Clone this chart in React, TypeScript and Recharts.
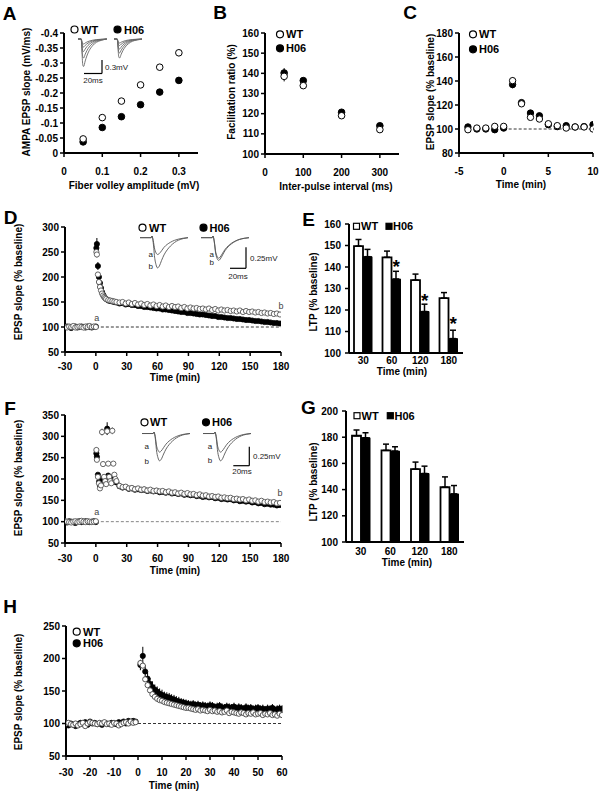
import React from 'react';
import {
  ScatterChart, Scatter, XAxis, YAxis, ErrorBar, ReferenceLine,
  ComposedChart, Bar, LineChart, Line,
} from 'recharts';

const FF = '"Liberation Sans", Arial, Helvetica, sans-serif';

// ---------- Panel A ----------
const aFiber = [0.05, 0.1, 0.15, 0.2, 0.25, 0.3];
const aWT = [-0.047, -0.118, -0.173, -0.227, -0.286, -0.334];
const aWTErr = [0.004, 0.004, 0.004, 0.005, 0.009, 0.011];
const aH06 = [-0.037, -0.085, -0.121, -0.161, -0.203, -0.242];
const aH06Err = [0.003, 0.003, 0.004, 0.004, 0.005, 0.005];
const aYTicks = [-0.4, -0.35, -0.3, -0.25, -0.2, -0.15, -0.1, -0.05, 0];
const aXTicks = [0, 0.1, 0.2, 0.3];

// ---------- Panel B ----------
const bInterval = [50, 100, 200, 300];
const bWT = [138.5, 133.9, 119, 112.1];
const bWTErr = [2.5, 1.5, 1.5, 1.5];
const bH06 = [140.2, 136.4, 120.7, 114];
const bH06Err = [2.4, 1, 1, 1];
const bYTicks = [100, 110, 120, 130, 140, 150, 160];
const bXTicks = [0, 100, 200, 300];

// ---------- Panel C ----------
const cTime = [-4, -3, -2, -1, 0, 1, 2, 3, 4, 5, 6, 7, 8, 9, 10];
const cWT = [99.4, 100.8, 100.8, 102.2, 102.2, 140.3, 121, 109.7, 108.3, 104.4, 102.8, 100.8, 101.7, 101.7, 100];
const cH06 = [101.7, 100, 100, 99.4, 100.8, 137, 122, 113.3, 111, 103.6, 102, 102.8, 101.7, 102, 103.6];
const cWTErr = [1, 1, 1, 1, 1, 3, 2, 1.5, 1.5, 1, 1, 1, 1, 1, 1];
const cH06Err = [1, 1, 1, 1, 1, 3, 2, 1.5, 1.5, 1, 1, 1, 1, 1, 1];
const cYTicks = [80, 100, 120, 140, 160, 180];
const cXTicks = [-5, 0, 5, 10];

// ---------- Panel D ----------
const dTime = [-30, -28, -26, -24, -22, -20, -18, -16, -14, -12, -10, -8, -6, -4, -2, 0,
  0.5, 1, 2, 3, 4, 5, 6, 7, 8, 9, 10, 12, 14, 16, 18, 20,
  23, 26, 29, 32, 35, 38, 41, 44, 47, 50, 53, 56, 59, 62, 65, 68, 71, 74, 77, 80,
  83, 86, 89, 92, 95, 98, 101, 104, 107, 110, 113, 116, 119, 122, 125, 128, 131, 134,
  137, 140, 143, 146, 149, 152, 155, 158, 161, 164, 167, 170, 173, 176, 179];
const dWT = [100, 99, 101, 100, 102, 99, 100, 101, 100, 99, 101, 100, 102, 100, 101, 100,
  250, 245, 205, 190, 180, 173, 167, 163, 160, 158, 156, 154, 153, 152, 151, 150,
  149, 150, 147, 149, 146, 148, 145, 147, 144, 146,
  143, 145, 142, 144, 141, 143, 140, 142, 140, 141,
  138, 140, 137, 139, 137, 138, 136, 137, 135, 137,
  134, 136, 133, 135, 133, 134, 132, 133, 131, 133,
  130, 132, 130, 131, 129, 130, 128, 129, 127, 128,
  126, 127, 125];
const dH06 = [99, 101, 100, 98, 100, 101, 99, 100, 101, 100, 99, 101, 100, 99, 100, 101,
  258, 266, 222, 200, 188, 178, 170, 165, 161, 158, 156, 153, 152, 151, 150, 149,
  147, 148, 145, 146, 144, 144, 142, 142, 140, 140,
  139, 138, 137, 137, 135, 135, 134, 133, 132, 131,
  130, 130, 128, 128, 127, 126, 125, 125, 124, 123,
  122, 122, 120, 120, 119, 118, 118, 117, 116, 116,
  115, 114, 114, 113, 112, 112, 111, 110, 110, 109,
  108, 108, 107];
const dWTErrEarly = [8, 6, 5, 4, 3, 3, 2, 2, 2, 2, 2];
const dH06ErrEarly = [6, 12, 8, 5, 4, 3, 3, 2, 2, 2, 2];
const dYTicks = [50, 100, 150, 200, 250, 300];
const longXTicks = [-30, 0, 30, 60, 90, 120, 150, 180];

// ---------- Panel E ----------
const eCats = ['30', '60', '120', '180'];
const eWT = [149.7, 144.5, 133.9, 125.5];
const eWTErr = [3.1, 2.9, 2.8, 2.6];
const eH06 = [144.8, 134.4, 119.3, 106.7];
const eH06Err = [3.4, 3.6, 3.4, 3.9];
const eStar = [null, 141.7, 126.1, 115.2];
const eYTicks = [100, 110, 120, 130, 140, 150, 160];

// ---------- Panel F ----------
const fTime = [-30, -28, -26, -24, -22, -20, -18, -16, -14, -12, -10, -8, -6, -4, -2, 0,
  0.5, 1, 2, 3, 4, 5, 6, 7, 8, 9, 10, 11, 12, 13, 14, 15, 16, 17, 18, 19, 20,
  23, 26, 29, 32, 35, 38, 41, 44, 47, 50, 53, 56, 59, 62, 65, 68, 71, 74, 77, 80,
  83, 86, 89, 92, 95, 98, 101, 104, 107, 110, 113, 116, 119, 122, 125, 128, 131, 134,
  137, 140, 143, 146, 149, 152, 155, 158, 161, 164, 167, 170, 173, 176, 179];
const fWT = [101, 100, 99, 98, 100, 101, 99, 100, 102, 100, 99, 101, 100, 99, 100, 101,
  268, 245, 205, 190, 178, 185, 310, 235, 205, 195, 188, 312, 236, 205, 195, 190, 313, 236, 210, 200, 195,
  184, 181, 182, 178, 179, 176, 178, 175, 176, 173,
  175, 172, 173, 171, 172, 169, 171, 168, 169, 166,
  168, 165, 167, 164, 165, 162, 164, 161, 162, 159,
  160, 158, 159, 156, 157, 155, 156, 153, 154, 152,
  153, 150, 152, 149, 150, 147, 149, 146, 147, 145,
  146, 143, 144];
const fH06 = [100, 98, 101, 100, 99, 97, 100, 101, 99, 100, 101, 100, 99, 100, 101, 99,
  260, 252, 210, 193, 185, 190, 200, 198, 195, 193, 192, 318, 208, 203, 198, 195, 200, 205, 200, 196, 192,
  183, 180, 181, 177, 178, 175, 176, 174, 175, 172,
  173, 171, 172, 169, 170, 168, 169, 166, 167, 165,
  166, 163, 164, 162, 163, 160, 161, 158, 159, 157,
  158, 155, 156, 153, 154, 152, 153, 150, 151, 148,
  149, 147, 148, 145, 146, 143, 144, 141, 142, 140,
  140, 138, 139];
const fWTErrEarly = [6, 5, 4, 3, 3, 3, 8, 5, 4, 3, 3, 8, 5, 4, 3, 3, 8, 5, 4, 3, 3];
const fH06ErrEarly = [5, 5, 4, 3, 3, 3, 4, 3, 3, 3, 3, 15, 4, 3, 3, 3, 4, 4, 3, 3, 3];
const fYTicks = [50, 100, 150, 200, 250, 300, 350];

// ---------- Panel G ----------
const gWT = [181.1, 169.9, 155.6, 141.8];
const gWTErr = [4.4, 4.8, 5.4, 7.9];
const gH06 = [179.6, 169.4, 152.3, 136.7];
const gH06Err = [3.8, 3.3, 5.6, 6.4];
const gYTicks = [100, 120, 140, 160, 180, 200];

// ---------- Panel H ----------
const hTime = [-30, -29, -28, -27, -26, -25, -24, -23, -22, -21, -20, -19, -18, -17, -16, -15,
  -14, -13, -12, -11, -10, -9, -8, -7, -6, -5, -4, -3, -2, -1,
  1, 2, 3, 4, 5, 6, 7, 8, 9, 10, 11, 12, 13, 14, 15, 16, 17, 18, 19, 20,
  21, 22, 23, 24, 25, 26, 27, 28, 29, 30, 31, 32, 33, 34, 35, 36, 37, 38, 39, 40,
  41, 42, 43, 44, 45, 46, 47, 48, 49, 50, 51, 52, 53, 54, 55, 56, 57, 58, 59, 60];
const hWT = [100, 101, 99, 98, 100, 97, 99, 101, 96, 100, 102, 101, 100, 99, 101, 100, 102, 99, 100, 98,
  101, 100, 97, 99, 101, 102, 100, 103, 101, 102,
  193, 189, 168, 159, 151, 145, 141, 138, 136, 135, 133, 132, 131, 130, 129, 128, 127, 126, 125, 124,
  124, 123, 122, 121, 122, 120, 121, 120, 119, 121, 119, 120, 118, 119, 117, 118, 120, 116, 118, 117,
  116, 115, 117, 116, 114, 116, 115, 117, 114, 115, 116, 113, 115, 114, 116, 113, 114, 112, 115, 113];
const hH06 = [99, 97, 100, 98, 96, 99, 101, 100, 102, 98, 103, 100, 101, 99, 100, 98, 101, 100, 99, 101,
  100, 99, 102, 101, 103, 100, 104, 102, 104, 103,
  190, 204, 180, 169, 161, 156, 152, 149, 146, 144, 142, 141, 140, 138, 137, 135, 134, 133, 132, 131,
  130, 129, 130, 128, 129, 127, 128, 127, 126, 128, 127, 125, 126, 127, 125, 124, 126, 125, 124, 126,
  123, 125, 124, 122, 125, 123, 124, 122, 123, 124, 122, 123, 121, 123, 122, 124, 121, 122, 123, 122];
const hH06ErrPost = [8, 14, 10, 10, 9, 9, 8, 8, 8, 8, 7, 7, 7, 7, 7, 7, 7, 6, 6, 6,
  6, 6, 6, 6, 6, 6, 6, 6, 6, 6, 6, 6, 6, 6, 6, 6, 6, 6, 6, 6,
  6, 6, 6, 6, 6, 6, 6, 6, 6, 6, 6, 6, 6, 6, 6, 6, 6, 6, 6, 6];
const hYTicks = [50, 100, 150, 200, 250];
const hXTicks = [-30, -20, -10, 0, 10, 20, 30, 40, 50, 60];

// ---------- Inset traces ----------
const tTrace = [0, 14, 15, 16, 17, 18, 20, 22, 24, 27, 30, 34, 38, 43, 48, 54, 60];
const traceA = [0, 0, 0.02, -0.01, -0.06, -0.12, -0.18, -0.2, -0.19, -0.155, -0.115, -0.08, -0.055, -0.032, -0.017, -0.006, 0];
const traceB = [0, 0, 0.02, -0.02, -0.1, -0.21, -0.32, -0.36, -0.34, -0.27, -0.205, -0.145, -0.1, -0.058, -0.03, -0.011, 0];
const traceC = [0, 0, 0.02, -0.01, -0.07, -0.15, -0.22, -0.245, -0.23, -0.185, -0.14, -0.098, -0.067, -0.039, -0.02, -0.007, 0];
const traceD = [0, 0, 0.02, -0.015, -0.08, -0.165, -0.245, -0.27, -0.255, -0.205, -0.155, -0.108, -0.074, -0.043, -0.022, -0.008, 0];

const tIO = [0, 4, 5, 6, 7, 9, 11, 14, 18, 23, 29, 36];
const ioWT1 = [0, 0, -0.05, -0.095, -0.1, -0.08, -0.062, -0.042, -0.025, -0.012, -0.005, 0];
const ioWT2 = [0, 0, -0.08, -0.152, -0.16, -0.128, -0.099, -0.067, -0.04, -0.019, -0.008, 0];
const ioWT3 = [0, 0, -0.125, -0.238, -0.25, -0.2, -0.155, -0.105, -0.063, -0.03, -0.013, 0];
const ioWT4 = [0, 0, -0.19, -0.361, -0.38, -0.304, -0.236, -0.16, -0.095, -0.046, -0.019, 0];
const ioWT5 = [0, 0, -0.275, -0.523, -0.55, -0.44, -0.341, -0.231, -0.138, -0.066, -0.028, 0];
const ioH1 = [0, 0, -0.04, -0.076, -0.08, -0.064, -0.05, -0.034, -0.02, -0.01, -0.004, 0];
const ioH2 = [0, 0, -0.065, -0.124, -0.13, -0.104, -0.081, -0.055, -0.033, -0.016, -0.007, 0];
const ioH3 = [0, 0, -0.1, -0.19, -0.2, -0.16, -0.124, -0.084, -0.05, -0.024, -0.01, 0];
const ioH4 = [0, 0, -0.14, -0.266, -0.28, -0.224, -0.174, -0.118, -0.07, -0.034, -0.014, 0];
const ioH5 = [0, 0, -0.19, -0.361, -0.38, -0.304, -0.236, -0.16, -0.095, -0.046, -0.019, 0];

// ---------- helpers ----------
const W = 600, H = 793, YW = 40, XH = 30;
const mg = (L: number, T: number, R: number, B: number) => ({ left: L - YW, top: T, right: W - R, bottom: H - B - XH });
const tickFont = { fill: '#000', fontSize: 10, fontWeight: 700, fontFamily: FF };
const axisLineS = { stroke: '#000', strokeWidth: 2 };
const tickLineS = { stroke: '#000', strokeWidth: 1.5 };

const pts = (xs: number[], ys: number[], es?: number[], errStart = 0) =>
  xs.map((x, i) => ({
    x,
    y: ys[i],
    e: es && i >= errStart && i - errStart < es.length ? es[i - errStart] : 0,
  }));

const dot = (r: number, fill: string, stroke: string, sw = 1) => (p: any) => {
  if (!p || p.cx == null || p.cy == null || isNaN(p.cx) || isNaN(p.cy)) return <g />;
  return <circle cx={p.cx} cy={p.cy} r={r} fill={fill} stroke={stroke} strokeWidth={sw} />;
};

const Abs = ({ children }: any) => (
  <div style={{ position: 'absolute', left: 0, top: 0, width: W, height: H }}>{children}</div>
);

const SP = (props: any) => {
  const { L, T, R, B, xd, yd, xt, yt, rev, xfmt, yfmt, xm, children } = props;
  return (
    <Abs>
      <ScatterChart width={W} height={H} margin={mg(L, T, R, B)}>
        <XAxis type="number" dataKey="x" domain={xd} ticks={xt} interval={0} allowDataOverflow
          axisLine={axisLineS} tickLine={tickLineS} tickSize={4} tickMargin={xm} tick={tickFont}
          height={XH} tickFormatter={xfmt} />
        <YAxis type="number" dataKey="y" domain={yd} ticks={yt} interval={0} reversed={rev} allowDataOverflow
          axisLine={axisLineS} tickLine={tickLineS} tickSize={4} tickMargin={2} tick={tickFont}
          width={YW} tickFormatter={yfmt} />
        {children}
      </ScatterChart>
    </Abs>
  );
};

const BP = (props: any) => {
  const { L, T, R, B, yd, yt, xm, wt, wtE, h06, h06E, star } = props;
  const data = eCats.map((c, i) => ({
    cat: c, wt: wt[i], h06: h06[i], wtE: [0, wtE[i]], h06E: [0, h06E[i]], star: star ? star[i] : null,
  }));
  return (
    <Abs>
      <ComposedChart width={W} height={H} margin={mg(L, T, R, B)} data={data} barGap={0}>
        <XAxis dataKey="cat" type="category" axisLine={axisLineS} tickLine={false} tickSize={0}
          tickMargin={xm} tick={tickFont} height={XH} interval={0} />
        <YAxis type="number" domain={yd} ticks={yt} interval={0} allowDataOverflow axisLine={axisLineS}
          tickLine={tickLineS} tickSize={4} tickMargin={4} tick={tickFont} width={YW} />
        <Bar dataKey="wt" fill="#fff" stroke="#000" strokeWidth={1.8} barSize={9} isAnimationActive={false}>
          <ErrorBar dataKey="wtE" direction="y" width={3} stroke="#000" strokeWidth={1.5} />
        </Bar>
        <Bar dataKey="h06" fill="#000" stroke="#000" strokeWidth={1} barSize={9} isAnimationActive={false}>
          <ErrorBar dataKey="h06E" direction="y" width={3} stroke="#000" strokeWidth={1.5} />
        </Bar>
        {star ? (
          <Scatter dataKey="star" isAnimationActive={false}
            shape={(p: any) => {
              if (!p || p.payload == null || p.payload.star == null || p.cy == null || isNaN(p.cy)) return <g />;
              return (
                <text x={p.cx + 4.5} y={p.cy + 10} textAnchor="middle" fontSize={19} fontWeight={700}
                  fontFamily={FF} fill="#000">*</text>
              );
            }} />
        ) : null}
      </ComposedChart>
    </Abs>
  );
};

const Trace = ({ left, top, w, h, xd, yd, t, series, stroke = '#555' }: any) => {
  const data = t.map((tv: number, i: number) => {
    const row: any = { t: tv };
    series.forEach((s: number[], k: number) => { row['s' + k] = s[i]; });
    return row;
  });
  return (
    <div style={{ position: 'absolute', left, top }}>
      <LineChart width={w} height={h} data={data} margin={{ top: 0, right: 0, bottom: 0, left: 0 }}>
        <XAxis type="number" dataKey="t" domain={xd} hide />
        <YAxis type="number" domain={yd} hide allowDataOverflow />
        {series.map((_: any, k: number) => (
          <Line key={k} dataKey={'s' + k} type="monotone" stroke={stroke} strokeWidth={0.9} dot={false}
            isAnimationActive={false} />
        ))}
      </LineChart>
    </div>
  );
};

const Tx = ({ x, y, t, size = 10, anchor = 'middle', weight = 700, rot = false, fill = '#000' }: any) => (
  <text x={x} y={y} fontSize={size} fontWeight={weight} textAnchor={anchor} dominantBaseline="central"
    fontFamily={FF} fill={fill} transform={rot ? `rotate(-90 ${x} ${y})` : undefined}>{t}</text>
);

const OC = ({ x, y }: any) => <circle cx={x} cy={y} r={3.5} fill="#fff" stroke="#000" strokeWidth={1.2} />;
const FC = ({ x, y }: any) => <circle cx={x} cy={y} r={3.5} fill="#000" stroke="#000" strokeWidth={1.2} />;
const OS = ({ x, y }: any) => <rect x={x} y={y} width={6} height={6} fill="#fff" stroke="#000" strokeWidth={1.2} />;
const FS = ({ x, y }: any) => <rect x={x} y={y} width={6} height={6} fill="#000" stroke="#000" strokeWidth={1.2} />;
const Ln = ({ x1, y1, x2, y2 }: any) => <line x1={x1} y1={y1} x2={x2} y2={y2} stroke="#000" strokeWidth={1.2} />;

const fmtA = (v: number) => (v === 0 ? '0' : String(v));

export default function App() {
  return (
    <div style={{ position: 'absolute', left: 0, top: 0, width: W, height: H, background: '#fff', overflow: 'hidden', fontFamily: FF }}>
      {/* A */}
      <SP L={64} T={33} R={198} B={153} xd={[0, 0.35]} yd={[-0.4, 0]} xt={aXTicks} yt={aYTicks} rev xm={11}
        xfmt={fmtA} yfmt={fmtA}>
        <Scatter data={pts(aFiber, aH06, aH06Err)} shape={dot(3.3, '#000', '#000')} isAnimationActive={false}>
          <ErrorBar dataKey="e" direction="y" width={0} stroke="#000" strokeWidth={1} />
        </Scatter>
        <Scatter data={pts(aFiber, aWT, aWTErr)} shape={dot(3.3, '#fff', '#000')} isAnimationActive={false}>
          <ErrorBar dataKey="e" direction="y" width={0} stroke="#000" strokeWidth={1} />
        </Scatter>
      </SP>

      {/* B */}
      <SP L={265} T={33} R={399} B={154} xd={[0, 350]} yd={[100, 160]} xt={bXTicks} yt={bYTicks} xm={11}>
        <Scatter data={pts(bInterval, bH06, bH06Err)} shape={dot(3.3, '#000', '#000')} isAnimationActive={false}>
          <ErrorBar dataKey="e" direction="y" width={0} stroke="#000" strokeWidth={1} />
        </Scatter>
        <Scatter data={pts(bInterval, bWT, bWTErr)} shape={dot(3.3, '#fff', '#000')} isAnimationActive={false}>
          <ErrorBar dataKey="e" direction="y" width={0} stroke="#000" strokeWidth={1} />
        </Scatter>
      </SP>

      {/* C */}
      <SP L={459} T={33} R={593} B={153} xd={[-5, 10]} yd={[80, 180]} xt={cXTicks} yt={cYTicks} xm={11}>
        <ReferenceLine segment={[{ x: 0, y: 100 }, { x: 10, y: 100 }]} stroke="#000" strokeWidth={0.8} strokeDasharray="3 2" />
        <Scatter data={pts(cTime, cH06, cH06Err)} shape={dot(3.2, '#000', '#000')} isAnimationActive={false}>
          <ErrorBar dataKey="e" direction="y" width={0} stroke="#000" strokeWidth={1} />
        </Scatter>
        <Scatter data={pts(cTime, cWT, cWTErr)} shape={dot(3.2, '#fff', '#000')} isAnimationActive={false}>
          <ErrorBar dataKey="e" direction="y" width={0} stroke="#000" strokeWidth={1} />
        </Scatter>
      </SP>

      {/* D */}
      <SP L={65} T={227} R={281} B={352} xd={[-30, 180]} yd={[50, 300]} xt={longXTicks} yt={dYTicks} xm={7}>
        <ReferenceLine segment={[{ x: 0, y: 100 }, { x: 180, y: 100 }]} stroke="#000" strokeWidth={0.8} strokeDasharray="3 2" />
        <Scatter data={pts(dTime, dH06, dH06ErrEarly, 16)} shape={dot(2.6, '#000', '#000', 0.8)} isAnimationActive={false}>
          <ErrorBar dataKey="e" direction="y" width={0} stroke="#000" strokeWidth={1} />
        </Scatter>
        <Scatter data={pts(dTime, dWT, dWTErrEarly, 16)} shape={dot(2.6, '#fff', '#555', 0.9)} isAnimationActive={false}>
          <ErrorBar dataKey="e" direction="y" width={0} stroke="#555" strokeWidth={1} />
        </Scatter>
      </SP>

      {/* E */}
      <BP L={349} T={224} R={463} B={353} yd={[100, 160]} yt={eYTicks} xm={4}
        wt={eWT} wtE={eWTErr} h06={eH06} h06E={eH06Err} star={eStar} />

      {/* F */}
      <SP L={65} T={415} R={281} B={543} xd={[-30, 180]} yd={[50, 350]} xt={longXTicks} yt={fYTicks} xm={8}>
        <ReferenceLine segment={[{ x: 0, y: 100 }, { x: 180, y: 100 }]} stroke="#777" strokeWidth={0.9} strokeDasharray="3 2" />
        <Scatter data={pts(fTime, fH06, fH06ErrEarly, 16)} shape={dot(2.6, '#000', '#000', 0.8)} isAnimationActive={false}>
          <ErrorBar dataKey="e" direction="y" width={0} stroke="#000" strokeWidth={1} />
        </Scatter>
        <Scatter data={pts(fTime, fWT, fWTErrEarly, 16)} shape={dot(2.6, '#fff', '#555', 0.9)} isAnimationActive={false}>
          <ErrorBar dataKey="e" direction="y" width={0} stroke="#555" strokeWidth={1} />
        </Scatter>
      </SP>

      {/* G */}
      <BP L={346} T={411} R={464} B={542} yd={[100, 200]} yt={gYTicks} xm={6}
        wt={gWT} wtE={gWTErr} h06={gH06} h06E={gH06Err} />

      {/* H */}
      <SP L={66} T={626} R={282} B={756} xd={[-30, 60]} yd={[50, 250]} xt={hXTicks} yt={hYTicks} xm={8.5}>
        <ReferenceLine segment={[{ x: 0, y: 100 }, { x: 60, y: 100 }]} stroke="#000" strokeWidth={0.8} strokeDasharray="3 2" />
        <Scatter data={pts(hTime, hH06, hH06ErrPost, 30)} shape={dot(2.6, '#000', '#000', 0.8)} isAnimationActive={false}>
          <ErrorBar dataKey="e" direction="y" width={0} stroke="#000" strokeWidth={1} />
        </Scatter>
        <Scatter data={pts(hTime, hWT)} shape={dot(2.6, '#fff', '#444', 0.9)} isAnimationActive={false} />
      </SP>

      {/* Inset traces */}
      <Trace left={78} top={38.3} w={28.8} h={31} xd={[0, 36]} yd={[-0.6, 0.02]} t={tIO}
        series={[ioWT1, ioWT2, ioWT3, ioWT4, ioWT5]} stroke="#666" />
      <Trace left={113.5} top={38.3} w={28.8} h={31} xd={[0, 36]} yd={[-0.6, 0.02]} t={tIO}
        series={[ioH1, ioH2, ioH3, ioH4, ioH5]} stroke="#666" />
      <Trace left={140} top={236} w={48} h={35.3} xd={[0, 60]} yd={[-0.4, 0.02]} t={tTrace} series={[traceA, traceB]} />
      <Trace left={201} top={236} w={48} h={35.3} xd={[0, 60]} yd={[-0.4, 0.02]} t={tTrace} series={[traceC, traceD]} />
      <Trace left={141.7} top={431.8} w={48} h={31.9} xd={[0, 60]} yd={[-0.4, 0.02]} t={tTrace} series={[traceC, traceB]} />
      <Trace left={203.3} top={431.8} w={48} h={31.9} xd={[0, 60]} yd={[-0.4, 0.02]} t={tTrace} series={[traceC, traceB]} />

      {/* Text and annotation overlay */}
      <svg width={W} height={H} style={{ position: 'absolute', left: 0, top: 0, pointerEvents: 'none' }}>
        {/* panel letters */}
        <Tx x={9.7} y={13.3} t="A" size={19} />
        <Tx x={220} y={12.7} t="B" size={19} />
        <Tx x={410} y={12.7} t="C" size={19} />
        <Tx x={10.5} y={217.5} t="D" size={19} />
        <Tx x={308.5} y={219} t="E" size={19} />
        <Tx x={10} y={408} t="F" size={19} />
        <Tx x={308.5} y={407} t="G" size={19} />
        <Tx x={10} y={606.7} t="H" size={19} />

        {/* axis titles */}
        <Tx x={26} y={92} t="AMPA EPSP slope (mV/ms)" rot />
        <Tx x={134} y={185} t="Fiber volley amplitude (mV)" />
        <Tx x={231} y={92} t="Facilitation ratio (%)" rot />
        <Tx x={336} y={186} t="Inter-pulse interval (ms)" />
        <Tx x={430} y={92} t="EPSP slope (% baseline)" rot />
        <Tx x={521} y={184} t="Time (min)" />
        <Tx x={18.3} y={282} t="EPSP slope (% baseline)" rot />
        <Tx x={175} y={377.5} t="Time (min)" />
        <Tx x={313.3} y={292} t="LTP (% baseline)" rot />
        <Tx x={402} y={371} t="Time (min)" />
        <Tx x={18.3} y={478} t="EPSP slope (% baseline)" rot />
        <Tx x={175} y={570.5} t="Time (min)" />
        <Tx x={313} y={482} t="LTP (% baseline)" rot />
        <Tx x={407} y={562} t="Time (min)" />
        <Tx x={18.3} y={692} t="EPSP slope (% baseline)" rot />
        <Tx x={174} y={785} t="Time (min)" />

        {/* legends */}
        <OC x={74.5} y={29.5} /><Tx x={81} y={29.5} t="WT" size={11} anchor="start" />
        <FC x={117.5} y={29.5} /><Tx x={124} y={29.5} t="H06" size={11} anchor="start" />
        <OC x={280} y={34.3} /><Tx x={286} y={34.3} t="WT" size={11} anchor="start" />
        <FC x={280} y={48.3} /><Tx x={286} y={48.3} t="H06" size={11} anchor="start" />
        <OC x={473} y={34.3} /><Tx x={479} y={34.3} t="WT" size={11} anchor="start" />
        <FC x={473} y={49.3} /><Tx x={479} y={49.3} t="H06" size={11} anchor="start" />
        <OC x={142.5} y={227.7} /><Tx x={149} y={227.7} t="WT" size={11} anchor="start" />
        <FC x={203.5} y={227.7} /><Tx x={209.5} y={227.7} t="H06" size={11} anchor="start" />
        <OS x={353.5} y={223.3} /><Tx x={361} y={226.3} t="WT" size={11} anchor="start" />
        <FS x={386} y={223.3} /><Tx x={393} y={226.3} t="H06" size={11} anchor="start" />
        <OC x={144.5} y={422.3} /><Tx x={150} y={422.3} t="WT" size={11} anchor="start" />
        <FC x={206} y={422.3} /><Tx x={212} y={422.3} t="H06" size={11} anchor="start" />
        <OS x={354} y={412.7} /><Tx x={361.5} y={415.7} t="WT" size={11} anchor="start" />
        <FS x={387.3} y={412.7} /><Tx x={394.5} y={415.7} t="H06" size={11} anchor="start" />
        <OC x={76.7} y={631.7} /><Tx x={83} y={631.7} t="WT" size={11} anchor="start" />
        <FC x={76.7} y={643.3} /><Tx x={83} y={643.3} t="H06" size={11} anchor="start" />

        {/* scale bars & inset labels */}
        <Ln x1={102} y1={60} x2={102} y2={73.5} /><Ln x1={84} y1={73.5} x2={102} y2={73.5} />
        <Tx x={105} y={67} t="0.3mV" size={8} weight={400} anchor="start" fill="#222" />
        <Tx x={93} y={80.5} t="20ms" size={8} weight={400} fill="#222" />

        <Tx x={150.7} y={254} t="a" size={8} weight={400} fill="#222" />
        <Tx x={150.7} y={266.7} t="b" size={8} weight={400} fill="#222" />
        <Tx x={211.7} y={254} t="a" size={8} weight={400} fill="#222" />
        <Tx x={211.7} y={262.3} t="b" size={8} weight={400} fill="#222" />
        <Ln x1={246} y1={247.3} x2={246} y2={268.3} /><Ln x1={230} y1={268.3} x2={246} y2={268.3} />
        <Tx x={250} y={258.3} t="0.25mV" size={8} weight={400} anchor="start" fill="#222" />
        <Tx x={238} y={276.7} t="20ms" size={8} weight={400} fill="#222" />
        <Tx x={96.7} y={318.3} t="a" size={9} weight={400} fill="#444" />
        <Tx x={281} y={306} t="b" size={9} weight={400} fill="#444" />

        <Tx x={146.7} y={446.7} t="a" size={8} weight={400} fill="#222" />
        <Tx x={146.7} y={461} t="b" size={8} weight={400} fill="#222" />
        <Tx x={210} y={446.7} t="a" size={8} weight={400} fill="#222" />
        <Tx x={210} y={460} t="b" size={8} weight={400} fill="#222" />
        <Ln x1={249.3} y1={446.7} x2={249.3} y2={465.7} /><Ln x1={233.3} y1={465.7} x2={249.3} y2={465.7} />
        <Tx x={253} y={456.7} t="0.25mV" size={8} weight={400} anchor="start" fill="#222" />
        <Tx x={242} y={471} t="20ms" size={8} weight={400} fill="#222" />
        <Tx x={96.7} y={511.7} t="a" size={9} weight={400} fill="#444" />
        <Tx x={280} y={493.3} t="b" size={9} weight={400} fill="#444" />
      </svg>
    </div>
  );
}
